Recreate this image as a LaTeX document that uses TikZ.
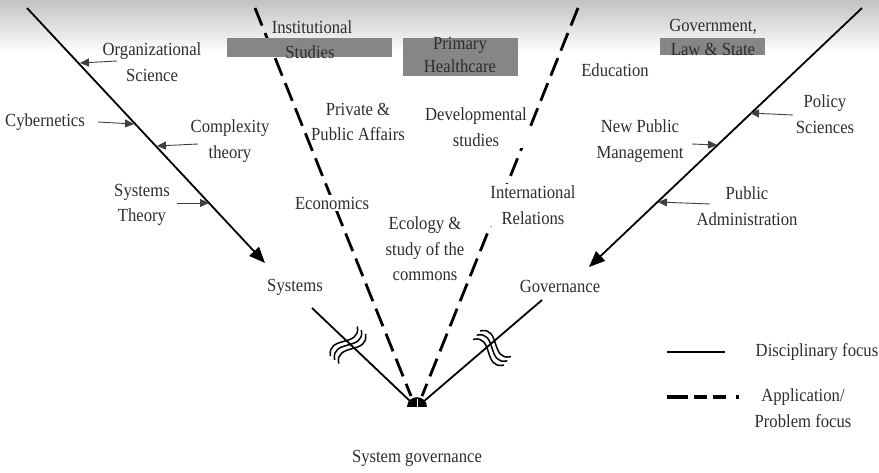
\documentclass[tikz,border=0pt]{standalone}
\usepackage{fontspec}
\setmainfont{Liberation Serif}[FakeStretch=0.9]
\usetikzlibrary{arrows.meta}
\definecolor{boxgray}{RGB}{134,134,134}
\definecolor{txtgray}{RGB}{45,45,45}
\begin{document}
\begin{tikzpicture}[x=1pt,y=-1pt,
    every node/.style={font=\fontsize{18.5}{25.5}\selectfont,text=txtgray,align=center,inner sep=2pt},
    disc/.style={line width=1.8pt},
    appl/.style={line width=2.8pt,dash pattern=on 19pt off 8pt},
    bigtip/.style={-{Triangle[length=16pt,width=13pt]}},
    feed/.style={line width=0.9pt,draw=black!75,-{Triangle[length=9pt,width=8pt]}},
    field/.style={fill=boxgray},
    gap/.style={fill=white},
    brk/.pic={\foreach \o in {-5.5,0,5.5}{\draw[line width=1.5pt] (-20,\o) .. controls (-7,\o-17) and (7,\o+17) .. (20,\o);}}]
    \useasboundingbox(0,0)rectangle(879,472);
    \shade[top color=black!24,bottom color=white](0,0)rectangle(879,52);
    % end points of the four focus lines
    \coordinate(lt)at(27,8);
    \coordinate(ltip)at(265,263);
    \coordinate(rt)at(862,8);
    \coordinate(rtip)at(589,267);
    \coordinate(ls)at(312,308);
    \coordinate(rs)at(542,300);
    \coordinate(la)at(411,402);
    \coordinate(ra)at(423,402);
    \coordinate(dl)at(255,8);
    \coordinate(dr)at(578,8);
    \coordinate(dla)at(411,396);
    \coordinate(dra)at(422,396);
    \draw[disc,bigtip](lt)--(ltip);
    \draw[disc,bigtip](rt)--(rtip);
    \draw[disc](ls)--(la);
    \draw[disc](rs)--(ra);
    \draw[appl](dl)--(dla);
    \draw[appl](dr)--(dra);
    \fill(407,407)..controls(407,394)and(427,394)..(427,407)--cycle;
    \draw[white,line width=1pt](417,399)--(417,407);
    \pic[rotate=48]at(348,345){brk};
    \pic[rotate=-40]at(492,348){brk};
    % application fields
    \fill[field](227,38)rectangle(392,57);
    \fill[field](403,38)rectangle(518,76);
    \fill[field](660,38)rectangle(765,55);
    \node(inst)at(312,27){Institutional};
    \node(stud)at(310,52){Studies};
    \node[font=\fontsize{18.5}{23}\selectfont](prim)at(460,55){Primary\\Healthcare};
    \node(govt)at(713,27){Government,};
    \node(law)at(713,49){Law \& State};
    \node(edu)at(615,70){Education};
    \node(priv)at(358,122){Private \&\\Public Affairs};
    \node[gap](dev)at(476,127){Developmental\\studies};
    \node[gap](econ)at(332,203){Economics};
    \node[gap](eco)at(425,249){Ecology \&\\study of the\\commons};
    \node[gap](intl)at(533,205){International\\Relations};
    \node(sys)at(295,287){Systems};
    \node(gov)at(560,286){Governance};
    \node(sg)at(417,458){System governance};
    % disciplines feeding the two solid lines
    \node(org)at(152,62){Organizational\\Science};
    \node(cyb)at(45,122){Cybernetics};
    \node(cplx)at(230,141){Complexity\\theory};
    \node(systh)at(142,205){Systems\\Theory};
    \node(pol)at(825,114){Policy\\Sciences};
    \node(npm)at(640,141){New Public\\Management};
    \node(pad)at(747,206){Public\\Administration};
    \coordinate(org-s)at(117,61);\coordinate(org-e)at(80,63);
    \coordinate(cyb-s)at(98,122);\coordinate(cyb-e)at(134,124);
    \coordinate(cplx-s)at(198,144);\coordinate(cplx-e)at(157,146);
    \coordinate(systh-s)at(177,203);\coordinate(systh-e)at(209,203);
    \coordinate(pol-s)at(793,115);\coordinate(pol-e)at(750,113);
    \coordinate(npm-s)at(692,144);\coordinate(npm-e)at(717,145);
    \coordinate(pad-s)at(710,204);\coordinate(pad-e)at(658,202);
    \foreach \f in {org,cyb,cplx,systh,pol,npm,pad}
        \draw[feed](\f-s)--(\f-e);
    % legend
    \coordinate(k1a)at(667,352);\coordinate(k1b)at(725,352);
    \coordinate(k2a)at(667,397);\coordinate(k2b)at(739,397);
    \draw[line width=2.6pt](k1a)--(k1b);
    \draw[line width=3.4pt,dash pattern=on 21pt off 6pt on 13pt off 6pt on 13pt off 10pt on 3pt](k2a)--(k2b);
    \node(disc)at(817,352){Disciplinary focus};
    \node(appl)at(803,408){Application/\\Problem focus};
\end{tikzpicture}
\end{document}
